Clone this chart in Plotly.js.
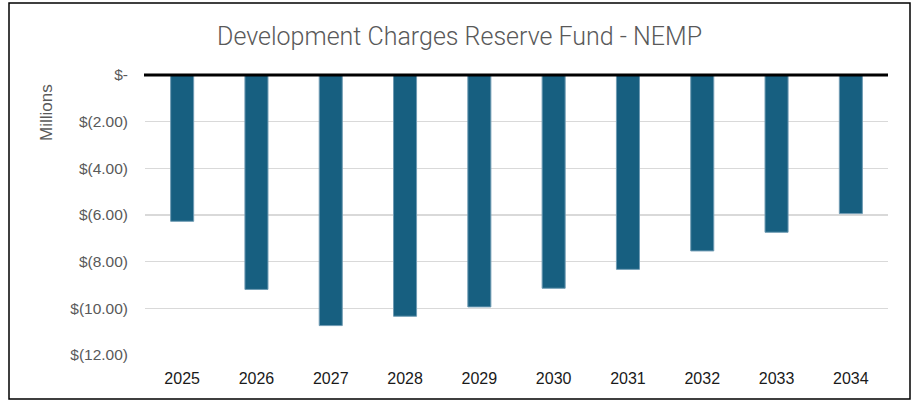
<!DOCTYPE html>
<html><head><meta charset="utf-8">
<script src="https://cdn.plot.ly/plotly-3.0.1.min.js"></script>
<style>html,body{margin:0;padding:0;background:#fff;}#chart{width:920px;height:401px;}</style>
</head><body><div id="chart"></div>
<script>
const years = ['2025','2026','2027','2028','2029','2030','2031','2032','2033','2034'];
const balances = [-6.27, -9.19, -10.74, -10.34, -9.94, -9.14, -8.33, -7.54, -6.74, -5.94];
const yTickVals = [0, -2, -4, -6, -8, -10, -12];
const yTickText = ['$-', '$(2.00)', '$(4.00)', '$(6.00)', '$(8.00)', '$(10.00)', '$(12.00)'];

const trace = {
  type: 'bar', x: years, y: balances,
  marker: {color: '#175f80', line: {color: '#6f9bb3', width: 1}},
  hoverinfo: 'x+y'
};
const layout = {
  width: 920, height: 401,
  margin: {l: 145, r: 32, t: 75, b: 46},
  paper_bgcolor: '#ffffff', plot_bgcolor: '#ffffff',
  bargap: 0.69,
  showlegend: false,
  font: {family: 'Liberation Sans, Arial, sans-serif', color: '#595959'},
  title: {text: 'Development Charges Reserve Fund - NEMP', x: 0.4995, xanchor: 'center', y: 0.91, yanchor: 'middle',
          xref: 'container', font: {family: 'Roboto, sans-serif', size: 25, weight: 300, color: '#595959'}},
  xaxis: {type: 'category', showgrid: false, zeroline: false, showline: false, ticks: '',
          tickfont: {size: 16, color: '#1a1a1a'}, ticklabelstandoff: 12},
  yaxis: {range: [-12, 0], tickvals: yTickVals, ticktext: yTickText, showgrid: true, gridcolor: '#d9d9d9', gridwidth: 1.5,
          zeroline: false, showline: false, ticks: '', tickfont: {size: 15.5, color: '#595959'}, ticklabelstandoff: 16},
  shapes: [
    {type: 'line', xref: 'paper', yref: 'paper', x0: -1/743, x1: 1, y0: 1, y1: 1, line: {color: '#000000', width: 3}, layer: 'above'},
    {type: 'rect', xref: 'paper', yref: 'paper', x0: -136/743, x1: 1 + 22/743, y0: -44/280, y1: 1 + 72/280,
     line: {color: '#000000', width: 1.5}, fillcolor: 'rgba(0,0,0,0)', layer: 'above'}
  ],
  annotations: [
    {text: 'Millions', xref: 'paper', yref: 'paper', x: -98/743, y: 1 - 38/280, xanchor: 'center', yanchor: 'middle',
     textangle: -90, showarrow: false, font: {size: 17, color: '#595959'}}
  ]
};
Plotly.newPlot('chart', [trace], layout, {displayModeBar: false, staticPlot: true});
</script></body></html>
